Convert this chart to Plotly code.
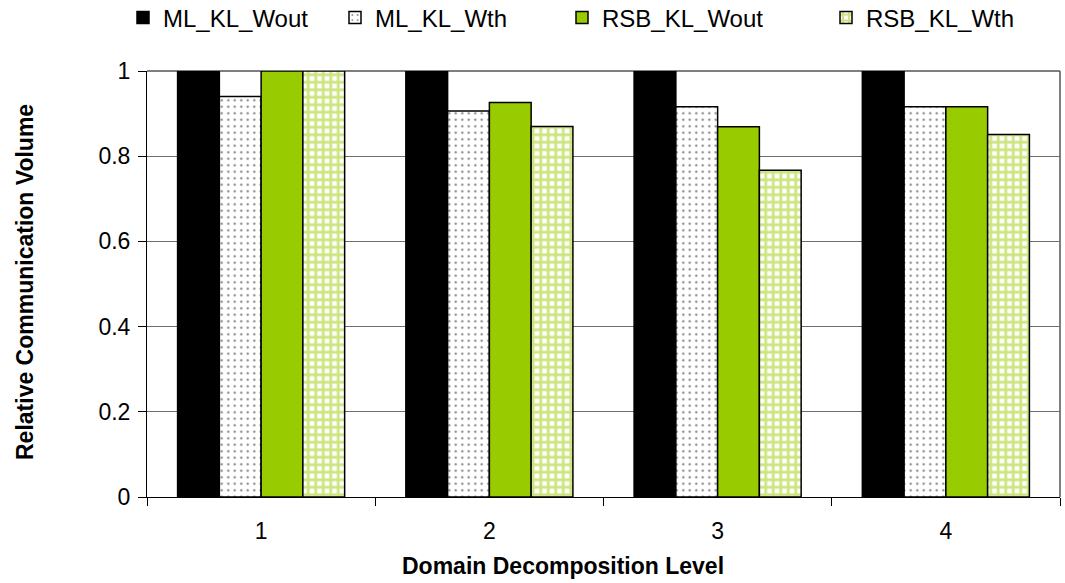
import plotly.graph_objects as go

# Domain decomposition levels and relative communication volume per method
levels = ["1", "2", "3", "4"]
ml_kl_wout = [1.0, 1.0, 1.0, 1.0]
ml_kl_wth = [0.940, 0.906, 0.916, 0.916]
rsb_kl_wout = [1.0, 0.926, 0.869, 0.916]
rsb_kl_wth = [1.0, 0.870, 0.767, 0.851]

series_names = ["ML_KL_Wout", "ML_KL_Wth", "RSB_KL_Wout", "RSB_KL_Wth"]

GREEN = "#99CC00"
FONT = "Liberation Sans, Arial, sans-serif"

W, H = 1065, 583
L, R, T, B = 147, 5, 71, 86
PW, PH = W - L - R, H - T - B


def px_x(x):
    return (x - L) / PW


def px_y(y):
    return (H - B - y) / PH


outline = dict(color="black", width=1.5)
styles = [
    dict(color="black", line=outline),
    dict(color="white", line=outline,
         pattern=dict(shape=".", fgcolor="black", bgcolor="white", size=6.5, solidity=0.1)),
    dict(color=GREEN, line=outline),
    dict(color="white", line=outline,
         pattern=dict(shape="+", fgcolor=GREEN, bgcolor="white", size=7.5, solidity=0.6)),
]

values = [ml_kl_wout, ml_kl_wth, rsb_kl_wout, rsb_kl_wth]
legend_ids = ["legend", "legend2", "legend3", "legend4"]
legend_text_x = [163, 375, 602, 866]

fig = go.Figure()
for name, vals, mk, lg in zip(series_names, values, styles, legend_ids):
    fig.add_trace(go.Bar(x=levels, y=vals, name=name, marker=mk, legend=lg))

legend_common = dict(
    orientation="h", yanchor="middle", y=px_y(18), xanchor="left",
    font=dict(family=FONT, size=24, color="black"),
    bgcolor="rgba(0,0,0,0)", borderwidth=0, itemwidth=30,
)
legend_layout = {}
for lg, tx in zip(legend_ids, legend_text_x):
    legend_layout[lg] = dict(legend_common, x=px_x(tx - 40))

fig.update_layout(
    width=W, height=H,
    margin=dict(l=L, r=R, t=T, b=B, autoexpand=False),
    paper_bgcolor="white", plot_bgcolor="white",
    barmode="group", bargap=0.268, bargroupgap=0,
    font=dict(family=FONT, size=23, color="black"),
    showlegend=True,
    **legend_layout,
    xaxis=dict(
        type="category", tickson="boundaries", ticks="outside", ticklen=8,
        tickcolor="black", showline=True, linecolor="black", linewidth=1,
        showgrid=False, tickfont=dict(size=23), ticklabelstandoff=13,
    ),
    yaxis=dict(
        range=[0, 1], tickvals=[0, 0.2, 0.4, 0.6, 0.8, 1],
        ticktext=["0", "0.2", "0.4", "0.6", "0.8", "1"],
        ticks="outside", ticklen=8, tickcolor="black",
        showline=True, linecolor="black", linewidth=1,
        showgrid=True, gridcolor="#6e6e6e", gridwidth=1,
        zeroline=False, tickfont=dict(size=23), ticklabelstandoff=3,
    ),
    shapes=[
        dict(type="line", xref="paper", yref="paper", x0=0, x1=1, y0=1, y1=1,
             line=dict(color="#555555", width=1.5), layer="below"),
        dict(type="line", xref="paper", yref="paper", x0=1, x1=1, y0=0, y1=1,
             line=dict(color="#555555", width=1.5), layer="below"),
    ],
    annotations=[
        dict(text="<b>Domain Decomposition Level</b>", xref="paper", yref="paper",
             x=px_x(563), y=px_y(566), showarrow=False,
             font=dict(family=FONT, size=23), xanchor="center", yanchor="middle"),
        dict(text="<b>Relative Communication Volume</b>", xref="paper", yref="paper",
             x=px_x(25), y=px_y(282), showarrow=False, textangle=-90,
             font=dict(family=FONT, size=23), xanchor="center", yanchor="middle"),
    ],
)

fig.write_html("out.html")
